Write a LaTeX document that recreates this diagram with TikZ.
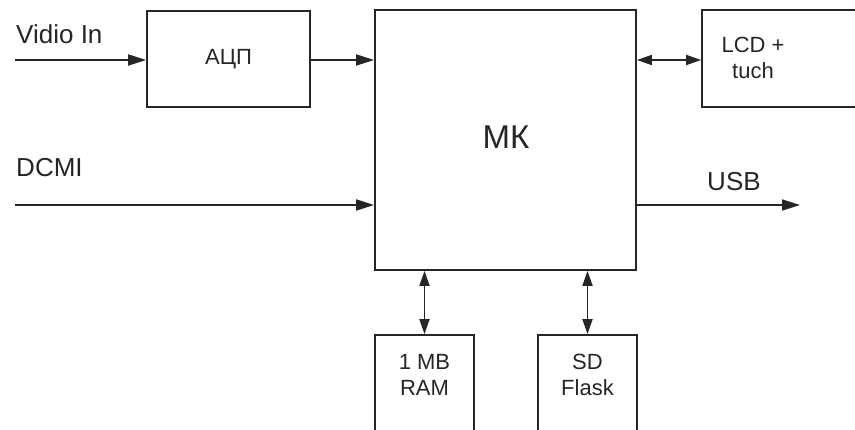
\documentclass[tikz,border=0pt]{standalone}
\usepackage{fontspec}
\setmainfont{Liberation Sans}
\usetikzlibrary{arrows.meta}
\begin{document}
\begin{tikzpicture}[x=1pt,y=-1pt,
  line width=1.8pt,
  blk/.style={draw=black!85,line width=1.8pt,rectangle,inner sep=0pt},
  sig/.style={draw=black!85,-{Triangle[length=18pt,width=11pt]}},
  bus/.style={draw=black!85,{Triangle[length=15pt,width=10pt]}-{Triangle[length=15pt,width=10pt]}},
  lbl/.style={font=\fontsize{26}{28}\selectfont,text=black!85},
  txt/.style={font=\fontsize{22}{26}\selectfont,text=black!85,align=center}]
  % canvas
  \useasboundingbox (0,0) rectangle (855,430);
  \clip (0,0) rectangle (855,430);
  % blocks
  \node[blk,minimum width=163pt,minimum height=96pt] (adc) at (228.5,59) {};
  \node[txt] at (adc.center) {АЦП};
  \node[blk,minimum width=261pt,minimum height=260pt] (mk) at (505.5,140) {};
  \node[font=\fontsize{33}{35}\selectfont,text=black!85] at (506,137) {МК};
  \node[blk,minimum width=170pt,minimum height=97pt] (lcd) at (787,58.5) {};
  \node[txt] at (753,58) {LCD +\\tuch};
  \node[blk,minimum width=99pt,minimum height=120pt] (ram) at (424.5,395) {};
  \node[txt] at (424.5,375) {1 MB\\RAM};
  \node[blk,minimum width=99pt,minimum height=120pt] (sd) at (587.5,395) {};
  \node[txt] at (587.5,375) {SD\\Flask};
  % free ends of the external signals
  \coordinate (vin) at (15,60);
  \coordinate (dcmi) at (15,205);
  \coordinate (usb) at (800,205);
  % labels
  \node[lbl,anchor=west] at (12,34) {Vidio In};
  \node[lbl,anchor=west] at (12,168) {DCMI};
  \node[lbl,anchor=west] at (703,182) {USB};
  % connectors
  \draw[sig] (vin) -- (vin -| adc.west);
  \draw[sig] (adc.east |- 0,60) -- (mk.west |- 0,60);
  \draw[sig] (dcmi) -- (dcmi -| mk.west);
  \draw[sig] (usb -| mk.east) -- (usb);
  \draw[bus] (mk.east |- 0,60) -- (lcd.west |- 0,60);
  \draw[bus] (ram.north |- mk.south) -- (ram.north);
  \draw[bus] (sd.north |- mk.south) -- (sd.north);
\end{tikzpicture}
\end{document}
